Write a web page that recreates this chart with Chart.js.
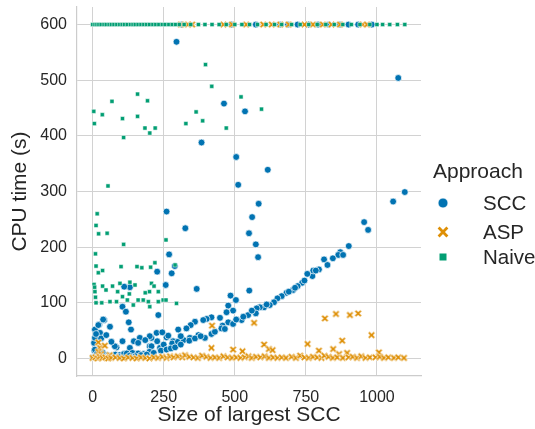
<!DOCTYPE html>
<html>
<head>
<meta charset="utf-8">
<script src="https://cdn.jsdelivr.net/npm/chart.js@4.4.1/dist/chart.umd.min.js"></script>
<style>
  html, body { margin: 0; padding: 0; background: #ffffff; }
  #wrap { width: 535px; height: 429px; position: relative; }
</style>
</head>
<body>
<div id="wrap"><canvas id="chart"></canvas></div>
<script>
// tick labels
const xTicks = [0, 250, 500, 750, 1000];
const yTicks = [0, 100, 200, 300, 400, 500, 600];
const approaches = ["SCC", "ASP", "Naive"];

// [size of largest SCC, CPU time (s)]
const sccTimeouts = [313, 489, 574, 659, 687, 721, 760, 793, 830, 870, 900, 934, 982];
const aspTimeouts = [310, 335, 350, 460, 490, 540, 600, 630, 660, 690, 745, 775, 810, 840, 870, 950, 965];
const naiveTimeouts = [0, 8, 15, 22, 30, 40, 48, 58, 66, 75, 85, 95, 104, 112, 122, 133, 142, 150, 160, 170,
  180, 190, 200, 212, 222, 233, 245, 255, 268, 280, 292, 305, 322, 345, 372, 395, 420, 445, 470, 500, 525,
  552, 580, 610, 640, 665, 700, 730, 760, 790, 820, 850, 880, 910, 940, 975, 1000, 1020, 1045, 1072, 1098];

const sccPoints = [
  [295, 569], [1075, 504], [462, 458], [536, 444], [383, 388], [505, 362], [616, 339], [512, 312],
  [584, 278], [561, 254], [550, 225], [574, 205], [582, 182], [260, 264], [326, 234], [269, 187],
  [1098, 299], [1057, 282], [955, 245], [969, 231], [901, 202], [871, 191], [864, 186], [881, 186],
  [814, 178], [826, 168], [796, 160], [773, 148], [776, 158], [755, 152], [737, 136], [721, 130],
  [705, 123], [682, 118], [665, 112], [650, 108], [638, 101], [623, 96], [603, 92], [588, 92],
  [577, 90], [574, 81], [547, 78], [524, 69], [551, 122], [504, 105], [485, 113], [477, 95],
  [494, 86], [471, 83], [477, 65], [494, 62], [457, 59], [448, 73], [418, 74], [401, 71],
  [389, 69], [366, 125], [360, 66], [345, 60], [330, 54], [301, 52], [278, 153], [289, 166],
  [227, 156], [257, 132], [231, 78], [227, 31], [207, 37], [260, 38], [283, 31], [201, 22],
  [237, 19], [266, 41], [225, 46], [201, 40], [166, 37], [342, 37], [372, 42], [395, 37],
  [418, 44], [453, 54], [105, 31], [145, 31], [131, 19], [84, 20], [41, 69], [61, 57],
  [23, 61], [8, 52], [5, 28], [6, 14], [105, 93], [117, 84], [131, 128], [111, 129],
  [127, 65], [135, 52], [20, 60], [37, 70], [26, 46], [8, 37], [8, 16], [78, 22],
  [207, 22], [250, 25], [280, 27], [300, 30], [320, 33], [2, 2], [10, 3], [20, 4],
  [30, 5], [40, 3], [50, 6], [60, 4], [70, 5], [80, 7], [95, 6], [110, 8],
  [120, 9], [140, 10], [160, 9], [180, 8], [200, 12], [215, 10], [240, 14], [260, 16],
  [275, 18], [290, 20], [310, 25], [340, 32], [360, 36], [380, 40], [430, 48], [465, 53],
  [505, 70], [530, 75], [560, 86], [612, 97], [690, 120], [712, 127], [745, 140], [785, 158],
  [845, 180], [15, 8], [35, 11], [55, 2], [90, 3], [130, 5], [150, 4], [170, 6], [190, 7],
  [12, 44], [30, 36], [48, 42], [66, 30], [160, 28], [185, 33], [245, 47], [310, 40]
];

const aspPoints = [
  [420, 59], [568, 64], [817, 72], [856, 80], [905, 78], [934, 81], [981, 42], [878, 32],
  [756, 26], [603, 25], [620, 17], [633, 15], [494, 16], [527, 13], [418, 19], [796, 14],
  [846, 17], [895, 10], [867, 8], [1007, 11], [20, 29], [26, 19], [43, 23], [20, 12],
  [30, 8], [60, 6], [0, 1], [10, 2], [18, 0], [25, 3], [35, 1], [45, 2], [55, 0], [65, 1],
  [80, 2], [95, 1], [110, 0], [125, 2], [140, 1], [155, 0], [170, 2], [185, 1], [200, 0],
  [215, 2], [230, 1], [245, 3], [260, 1], [272, 4], [285, 2], [300, 4], [315, 2], [325, 6],
  [340, 3], [355, 2], [370, 1], [385, 5], [400, 3], [415, 1], [430, 2], [445, 1], [460, 4],
  [475, 2], [490, 1], [505, 2], [520, 1], [535, 2], [548, 4], [560, 1], [575, 3], [590, 2],
  [605, 4], [620, 1], [635, 2], [650, 1], [665, 2], [680, 1], [700, 3], [715, 1], [730, 5],
  [745, 2], [760, 1], [775, 3], [790, 2], [805, 1], [815, 5], [830, 3], [845, 1], [860, 2],
  [880, 1], [900, 2], [915, 3], [930, 1], [945, 4], [960, 1], [975, 2], [995, 2], [1010, 3],
  [1025, 1], [1040, 2], [1060, 1], [1075, 2], [1095, 1]
];

const naivePoints = [
  [397, 528], [419, 489], [522, 470], [594, 448], [68, 462], [158, 475], [193, 463], [4, 444],
  [6, 422], [34, 438], [105, 431], [158, 435], [184, 414], [201, 405], [220, 414], [328, 422],
  [364, 443], [387, 427], [470, 414], [109, 397], [54, 310], [16, 260], [12, 239], [21, 224],
  [51, 225], [109, 205], [258, 213], [10, 188], [290, 168], [12, 166], [20, 154], [35, 158],
  [100, 165], [156, 165], [173, 163], [204, 164], [219, 172], [5, 133], [7, 128], [8, 120],
  [10, 110], [35, 130], [47, 123], [70, 130], [88, 120], [96, 135], [131, 137], [149, 132],
  [129, 116], [105, 111], [122, 105], [84, 102], [61, 102], [32, 100], [12, 100], [160, 105],
  [178, 105], [196, 102], [207, 135], [216, 130], [231, 120], [200, 120], [185, 118], [248, 105],
  [258, 105], [295, 99], [231, 102], [143, 96], [201, 93]
];

const COLORS = { SCC: "#0173b2", ASP: "#de8f05", Naive: "#029e73" };

function makeCross(size, arm, width, color) {
  const c = document.createElement("canvas");
  c.width = c.height = size;
  const g = c.getContext("2d");
  const m = size / 2;
  const path = () => {
    g.beginPath();
    g.moveTo(m - arm, m - arm); g.lineTo(m + arm, m + arm);
    g.moveTo(m + arm, m - arm); g.lineTo(m - arm, m + arm);
  };
  g.lineCap = "square";
  g.strokeStyle = "#ffffff";
  g.lineWidth = width + 1;
  path(); g.stroke();
  g.strokeStyle = color;
  g.lineWidth = width;
  path(); g.stroke();
  return c;
}

const crossMark = makeCross(9, 2.1, 1.8, COLORS.ASP);
const crossLegend = makeCross(14, 3.4, 2.8, COLORS.ASP);

function toXY(pairs) {
  return pairs.map(([x, y]) => ({ x, y }));
}

const sccData = toXY(sccPoints.concat(sccTimeouts.map((x) => [x, 600])));
const aspData = toXY(aspPoints.concat(aspTimeouts.map((x) => [x, 600])));
const naiveData = toXY(naivePoints.concat(naiveTimeouts.map((x) => [x, 600])));

const legendPlugin = {
  id: "seabornLegend",
  afterDraw(chart) {
    const { ctx } = chart;
    ctx.save();
    ctx.fillStyle = "#262626";
    ctx.textBaseline = "middle";
    ctx.textAlign = "left";
    ctx.font = "21px 'Liberation Sans', Arial, sans-serif";
    ctx.fillText("Approach", 433, 172);

    const rows = [203, 232, 257];
    approaches.forEach((name, i) => {
      const y = rows[i];
      const x = 443;
      if (name === "SCC") {
        ctx.beginPath();
        ctx.arc(x, y, 5, 0, Math.PI * 2);
        ctx.fillStyle = COLORS.SCC;
        ctx.fill();
        ctx.strokeStyle = "#ffffff";
        ctx.lineWidth = 0.8;
        ctx.stroke();
      } else if (name === "ASP") {
        ctx.drawImage(crossLegend, x - 7, y - 7);
      } else {
        ctx.fillStyle = COLORS.Naive;
        ctx.fillRect(x - 3.5, y - 3.5, 7, 7);
      }
      ctx.fillStyle = "#262626";
      ctx.font = "20.5px 'Liberation Sans', Arial, sans-serif";
      ctx.fillText(name, 483, y + 1);
    });
    ctx.restore();
  },
};

const font = { family: "'Liberation Sans', Arial, sans-serif" };

new Chart(document.getElementById("chart"), {
  type: "scatter",
  data: {
    datasets: [
      {
        label: "Naive",
        data: naiveData,
        pointStyle: "rect",
        pointRadius: 2.9,
        backgroundColor: COLORS.Naive,
        borderColor: "#ffffff",
        borderWidth: 0.5,
        order: 1,
      },
      {
        label: "ASP",
        data: aspData,
        pointStyle: crossMark,
        backgroundColor: COLORS.ASP,
        order: 2,
      },
      {
        label: "SCC",
        data: sccData,
        pointStyle: "circle",
        pointRadius: 3.4,
        backgroundColor: COLORS.SCC,
        borderColor: "#ffffff",
        borderWidth: 0.7,
        order: 3,
      },
    ],
  },
  options: {
    responsive: true,
    maintainAspectRatio: false,
    animation: false,
    events: [],
    layout: { padding: { top: 7, right: 114, left: 0, bottom: 0 } },
    plugins: {
      legend: { display: false },
      tooltip: { enabled: false },
    },
    scales: {
      x: {
        type: "linear",
        min: -55,
        max: 1155,
        afterBuildTicks(scale) {
          scale.ticks = xTicks.map((value) => ({ value }));
        },
        afterFit(scale) {
          scale.height = 53;
          scale.paddingLeft = 0;
          scale.paddingRight = 0;
        },
        grid: { color: "#d2d2d2", lineWidth: 1, drawTicks: false },
        border: { display: true, color: "#cccccc", width: 1.2 },
        ticks: {
          color: "#262626",
          padding: 12,
          font: { ...font, size: 16 },
          callback: (value) => String(value),
        },
        title: {
          display: true,
          text: "Size of largest SCC",
          color: "#262626",
          padding: { top: 2, bottom: 1 },
          font: { ...font, size: 21 },
        },
      },
      y: {
        type: "linear",
        min: -31.5,
        max: 631.5,
        afterBuildTicks(scale) {
          scale.ticks = yTicks.map((value) => ({ value }));
        },
        afterFit(scale) {
          scale.width = 77;
          scale.paddingTop = 0;
          scale.paddingBottom = 0;
        },
        grid: { color: "#d2d2d2", lineWidth: 1, drawTicks: false },
        border: { display: true, color: "#cccccc", width: 1.2 },
        ticks: {
          color: "#262626",
          padding: 10,
          font: { ...font, size: 16 },
          callback: (value) => String(value),
        },
        title: {
          display: true,
          text: "CPU time (s)",
          color: "#262626",
          padding: { top: 8, bottom: 4 },
          font: { ...font, size: 21 },
        },
      },
    },
  },
  plugins: [legendPlugin],
});
</script>
</body>
</html>
